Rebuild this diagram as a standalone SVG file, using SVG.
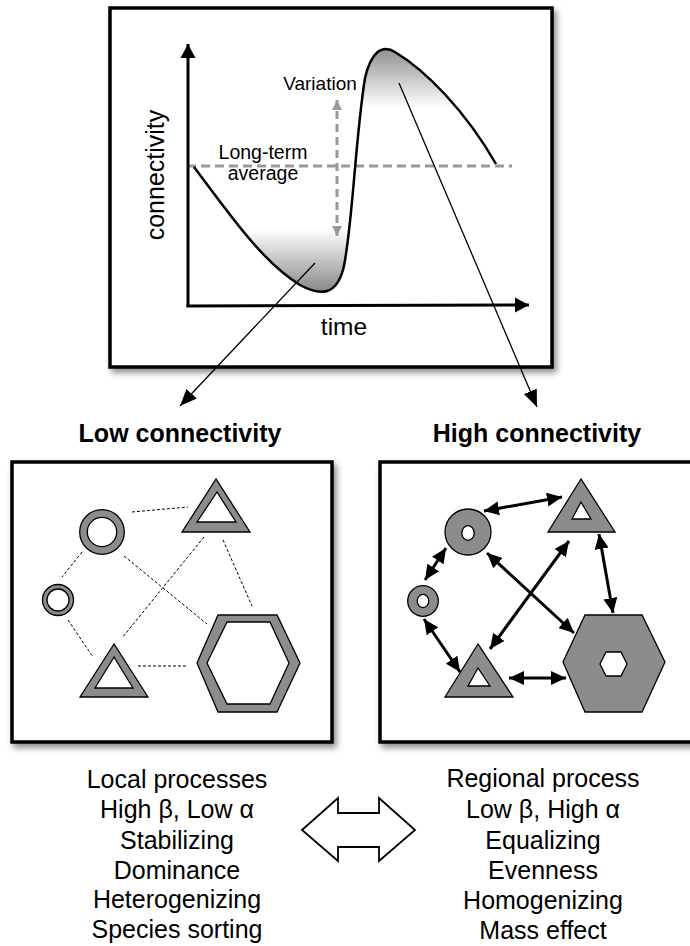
<svg xmlns="http://www.w3.org/2000/svg" width="690" height="946" viewBox="0 0 690 946">
<style>
text{font-family:"Liberation Sans",Arial,sans-serif;fill:#000}
.box{fill:#fff;stroke:#000;stroke-width:3.5;filter:url(#sh)}
.shape{fill:#8c8c8c;stroke:#000;stroke-width:1.3;stroke-linejoin:miter}
.hole{fill:#fff;stroke:#000;stroke-width:1.3}
.dash{stroke:#000;stroke-width:1;stroke-dasharray:3,2;fill:none}
.dbl{stroke:#000;stroke-width:3;fill:none;marker-start:url(#ah);marker-end:url(#ah)}
.lbl{font-size:25px;text-anchor:middle}
.ttl{font-size:25px;font-weight:bold;text-anchor:middle}
</style>
<defs>
<filter id="sh" x="-10%" y="-10%" width="125%" height="125%">
<feDropShadow dx="3" dy="4" stdDeviation="3" flood-color="#000" flood-opacity="0.45"/>
</filter>
<linearGradient id="grad" gradientUnits="userSpaceOnUse" x1="0" y1="49" x2="0" y2="293">
<stop offset="0" stop-color="#909090"/>
<stop offset="0.24" stop-color="#fff"/>
<stop offset="0.74" stop-color="#fff"/>
<stop offset="1" stop-color="#858585"/>
</linearGradient>
<marker id="ah" markerUnits="userSpaceOnUse" markerWidth="16" markerHeight="14" refX="15" refY="7" orient="auto-start-reverse" viewBox="0 0 16 14">
<path d="M0,0 L15,7 L0,14 Z" fill="#000"/>
</marker>
<marker id="axh" markerUnits="userSpaceOnUse" markerWidth="16" markerHeight="16" refX="14" refY="8" orient="auto" viewBox="0 0 16 16">
<path d="M0,0.5 L14,8 L0,15.5 Z" fill="#000"/>
</marker>
<marker id="lh" markerUnits="userSpaceOnUse" markerWidth="18" markerHeight="14" refX="17" refY="7" orient="auto" viewBox="0 0 18 14">
<path d="M0,0 L17,7 L0,14 Z" fill="#000"/>
</marker>
<marker id="gh" markerUnits="userSpaceOnUse" markerWidth="12" markerHeight="10" refX="10" refY="5" orient="auto-start-reverse" viewBox="0 0 12 10">
<path d="M0,0 L10,5 L0,10 Z" fill="#999"/>
</marker>
</defs>

<g id="chart">
<rect class="box" x="110" y="8" width="442" height="359"/>
<path d="M194,167 C228,212 262,262 300,285 C322,297 336,294 343,270 C352,235 355,140 365,78 C371,52 382,44 395,52 C425,70 465,110 496,164" fill="url(#grad)" stroke="none"/>
<line x1="187" y1="166" x2="512" y2="166" stroke="#999" stroke-width="3" stroke-dasharray="9,5"/>
<line x1="337" y1="236" x2="337" y2="100" stroke="#999" stroke-width="3" stroke-dasharray="8,5" marker-start="url(#gh)" marker-end="url(#gh)"/>
<path d="M194,167 C228,212 262,262 300,285 C322,297 336,294 343,270 C352,235 355,140 365,78 C371,52 382,44 395,52 C425,70 465,110 496,164" fill="none" stroke="#000" stroke-width="2.5"/>
<line x1="188" y1="307" x2="188" y2="44" stroke="#000" stroke-width="3" marker-end="url(#axh)"/>
<line x1="186.5" y1="306" x2="529" y2="305" stroke="#000" stroke-width="3" marker-end="url(#axh)"/>
<text x="320" y="90" font-size="19" text-anchor="middle">Variation</text>
<text x="263" y="159" font-size="19.5" text-anchor="middle">Long-term</text>
<text x="263" y="180" font-size="19.5" text-anchor="middle">average</text>
<text transform="translate(164,175) rotate(-90)" font-size="25" text-anchor="middle">connectivity</text>
<text x="344" y="335" font-size="24.5" text-anchor="middle">time</text>
</g>

<g id="connectors-top">
<line x1="315" y1="263" x2="180" y2="406" stroke="#000" stroke-width="1.3" marker-end="url(#lh)"/>
<line x1="399" y1="83" x2="537" y2="407" stroke="#000" stroke-width="1.3" marker-end="url(#lh)"/>
</g>

<g id="low-panel">
<text class="ttl" x="180" y="442">Low connectivity</text>
<rect class="box" x="12" y="462" width="320" height="280"/>
<g id="low-edges">
<line class="dash" x1="132" y1="512" x2="188" y2="507"/>
<line class="dash" x1="82" y1="552" x2="62" y2="577"/>
<line class="dash" x1="68" y1="620" x2="93" y2="657"/>
<line class="dash" x1="124" y1="556" x2="207" y2="624"/>
<line class="dash" x1="204" y1="537" x2="122" y2="638"/>
<line class="dash" x1="223" y1="540" x2="252" y2="606"/>
<line class="dash" x1="138" y1="666" x2="188" y2="666"/>
</g>
<g id="low-circle-big"><circle class="shape" cx="102" cy="532" r="22.3"/><circle class="hole" cx="102" cy="532" r="14.7"/></g>
<g id="low-circle-small"><circle class="shape" cx="58" cy="600" r="15.5"/><circle class="hole" cx="58" cy="600" r="11"/></g>
<g id="low-tri-top"><polygon class="shape" points="216,479 182,532 250,532"/><polygon class="hole" points="217,492 197,522 236,522"/></g>
<g id="low-tri-bottom"><polygon class="shape" points="114,644 80,697 148,697"/><polygon class="hole" points="114,657 95,688 133,688"/></g>
<g id="low-hex"><polygon class="shape" points="197,663 218,615 277,615 300,663 277,712 218,712"/><polygon class="hole" points="207,663 227,622 270,622 289,663 270,704 227,704"/></g>
</g>

<g id="high-panel">
<text class="ttl" x="537" y="442">High connectivity</text>
<rect class="box" x="380" y="462" width="330" height="280"/>
<g id="high-edges">
<line class="dbl" x1="484" y1="511" x2="562" y2="497"/>
<line class="dbl" x1="446" y1="548" x2="425" y2="580"/>
<line class="dbl" x1="424" y1="619" x2="460" y2="672"/>
<line class="dbl" x1="487" y1="553" x2="574" y2="633"/>
<line class="dbl" x1="569" y1="541" x2="490" y2="649"/>
<line class="dbl" x1="599" y1="534" x2="613" y2="613"/>
<line class="dbl" x1="509" y1="678" x2="566" y2="678"/>
</g>
<g id="high-circle-big"><circle class="shape" cx="468" cy="532" r="23"/><ellipse class="hole" cx="468" cy="533" rx="6.2" ry="7.3"/></g>
<g id="high-circle-small"><circle class="shape" cx="423" cy="601" r="15.3"/><ellipse class="hole" cx="423" cy="601" rx="5.8" ry="6.6"/></g>
<g id="high-tri-top"><polygon class="shape" points="581,479 548,532 615,532"/><polygon class="hole" points="581,502 572,519 591,519"/></g>
<g id="high-tri-bottom"><polygon class="shape" points="478,644 445,697 513,697"/><polygon class="hole" points="478,668 468,686 490,686"/></g>
<g id="high-hex"><polygon class="shape" points="563,662 585,615 642,615 665,662 642,712 585,712"/><polygon class="hole" points="600,664 606,652 621,652 627,664 621,676 606,676"/></g>
</g>

<g id="block-arrow">
<polygon points="302,830 338,798 338,813 379,813 379,798 415,830 379,861 379,847 338,847 338,861" fill="#fff" stroke="#000" stroke-width="1.8" stroke-linejoin="miter"/>
</g>

<g id="left-text">
<text class="lbl" x="177" y="788">Local processes</text>
<text class="lbl" x="177" y="818">High β, Low α</text>
<text class="lbl" x="177" y="849">Stabilizing</text>
<text class="lbl" x="177" y="879">Dominance</text>
<text class="lbl" x="177" y="908">Heterogenizing</text>
<text class="lbl" x="177" y="938">Species sorting</text>
</g>
<g id="right-text">
<text class="lbl" x="543" y="787">Regional process</text>
<text class="lbl" x="543" y="818">Low β, High α</text>
<text class="lbl" x="543" y="849">Equalizing</text>
<text class="lbl" x="543" y="879">Evenness</text>
<text class="lbl" x="543" y="909">Homogenizing</text>
<text class="lbl" x="543" y="939">Mass effect</text>
</g>
</svg>
